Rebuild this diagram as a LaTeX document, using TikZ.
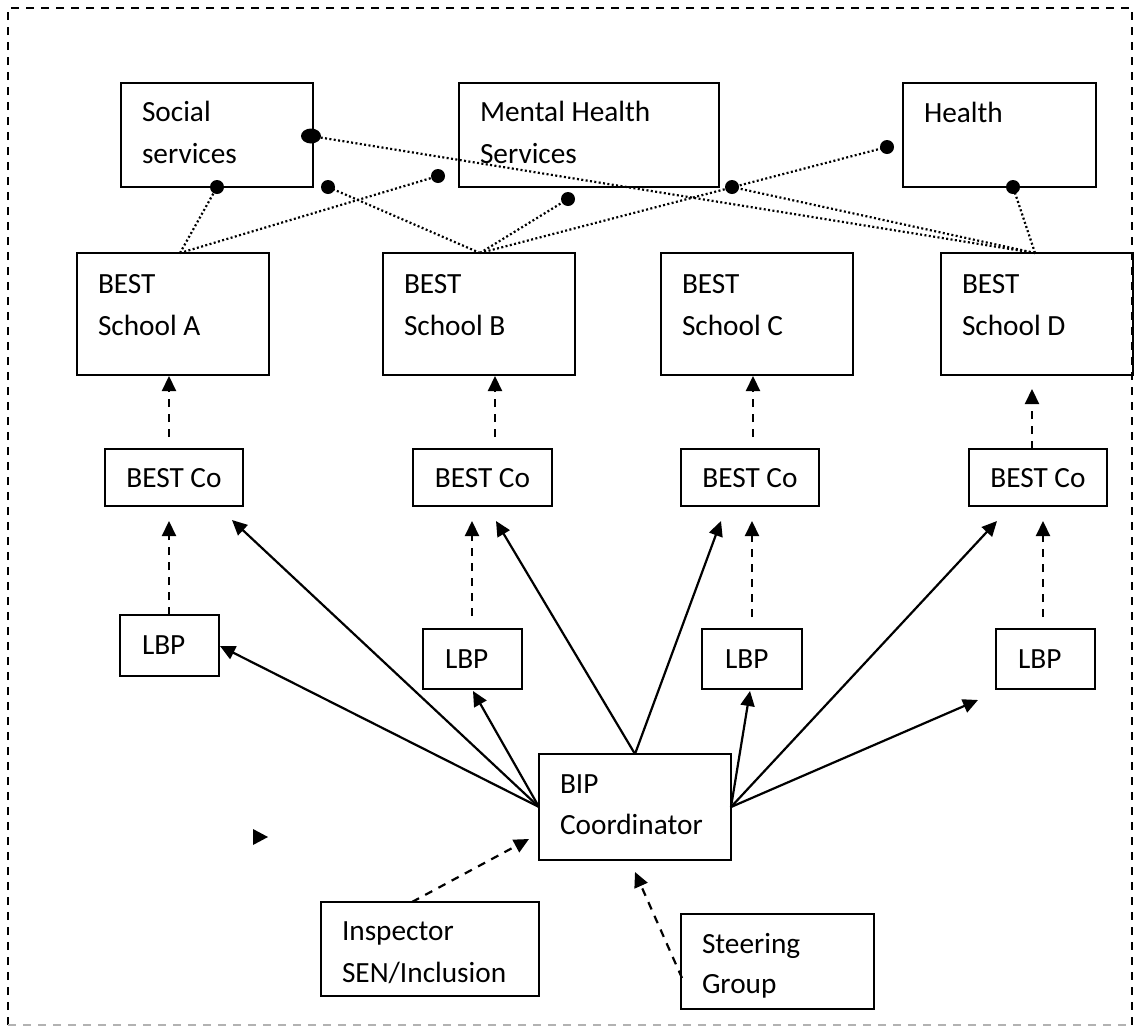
\documentclass[tikz,border=0pt]{standalone}
\usepackage{fontspec}
\setmainfont{Carlito}
\usetikzlibrary{arrows.meta,shapes.geometric}
\tikzset{
  box/.style={draw, line width=2pt, inner sep=0pt, outer sep=0pt, rectangle},
  lbl/.style={anchor=base west, inner sep=0pt, outer sep=0pt, font=\fontsize{29.3}{35}\selectfont},
  clbl/.style={anchor=base, inner sep=0pt, outer sep=0pt, font=\fontsize{29.3}{35}\selectfont},
  solidarrow/.style={line width=2.2pt, -{Triangle[length=15pt,width=14pt]}},
  dasharrow/.style={line width=2.2pt, dash pattern=on 8pt off 7pt, -{Triangle[length=15pt,width=14pt]}},
  dotline/.style={line width=2.2pt, dash pattern=on 2pt off 2.4pt},
  dotend/.style={circle, fill, draw=none, inner sep=0pt, minimum size=14pt},
  frameline/.style={line width=1.6pt, dash pattern=on 8pt off 7pt},
}
\begin{document}
\begin{tikzpicture}[x=1pt, y=-1pt]
\useasboundingbox (0,0) rectangle (1136,1026);

% frame
\draw[frameline] (8,1025) -- (8,8) -- (1132,8) -- (1132,1025);
\draw[frameline, gray!60, line width=1.4pt] (8,1025) -- (1132,1025);

% top row
\node[box, minimum width=192pt, minimum height=104pt] (soc) at (217,135) {};
\node[box, minimum width=260pt, minimum height=104pt] (mhs) at (589,135) {};
\node[box, minimum width=193pt, minimum height=104pt] (hea) at (999.5,135) {};
\node[lbl] (socT1) at (142,121) {Social};
\node[lbl] (socT2) at (142,163) {services};
\node[lbl] (mhsT1) at (480,121) {Mental Health};
\node[lbl] (mhsT2) at (480,163) {Services};
\node[lbl] (heaT1) at (924,122) {Health};

% schools
\node[box, minimum width=192pt, minimum height=122pt] (schA) at (173,314) {};
\node[box, minimum width=192pt, minimum height=122pt] (schB) at (479,314) {};
\node[box, minimum width=192pt, minimum height=122pt] (schC) at (757,314) {};
\node[box, minimum width=192pt, minimum height=122pt] (schD) at (1037,314) {};
\node[lbl] (schA1) at (98,293) {BEST};
\node[lbl] (schA2) at (98,335) {School A};
\node[lbl] (schB1) at (404,293) {BEST};
\node[lbl] (schB2) at (404,335) {School B};
\node[lbl] (schC1) at (682,293) {BEST};
\node[lbl] (schC2) at (682,335) {School C};
\node[lbl] (schD1) at (962,293) {BEST};
\node[lbl] (schD2) at (962,335) {School D};

% BEST Co
\node[box, minimum width=138pt, minimum height=57pt] (coA) at (174,477.5) {};
\node[box, minimum width=139pt, minimum height=57pt] (coB) at (482.5,477.5) {};
\node[box, minimum width=138pt, minimum height=57pt] (coC) at (750,477.5) {};
\node[box, minimum width=138pt, minimum height=57pt] (coD) at (1038,477.5) {};
\node[clbl] (coAT) at (174,487.5) {BEST Co};
\node[clbl] (coBT) at (482.5,487.5) {BEST Co};
\node[clbl] (coCT) at (750,487.5) {BEST Co};
\node[clbl] (coDT) at (1038,487.5) {BEST Co};

% LBP
\node[box, minimum width=99pt, minimum height=61pt] (lbpA) at (169.5,645.5) {};
\node[box, minimum width=99pt, minimum height=60pt] (lbpB) at (472.5,659) {};
\node[box, minimum width=100pt, minimum height=60pt] (lbpC) at (752,659) {};
\node[box, minimum width=99pt, minimum height=60pt] (lbpD) at (1045.5,659) {};
\node[lbl] (lbpAT) at (142,654) {LBP};
\node[lbl] (lbpBT) at (445,668) {LBP};
\node[lbl] (lbpCT) at (725,668) {LBP};
\node[lbl] (lbpDT) at (1018,668) {LBP};

% BIP, Inspector, Steering
\node[box, minimum width=192pt, minimum height=106pt] (bip) at (635,807) {};
\node[lbl] (bipT1) at (560,793) {BIP};
\node[lbl] (bipT2) at (560,834) {Coordinator};
\node[box, minimum width=218pt, minimum height=94pt] (insp) at (430,949) {};
\node[lbl] (inspT1) at (342,940) {Inspector};
\node[lbl] (inspT2) at (342,982) {SEN/Inclusion};
\node[box, minimum width=193pt, minimum height=95pt] (steer) at (777.5,961.5) {};
\node[lbl] (steerT1) at (702,953) {Steering};
\node[lbl] (steerT2) at (702,993) {Group};

% dotted connection points
\coordinate (aTop) at (180,253);
\coordinate (bTop) at (480,253);
\coordinate (dTop) at (1035,253);
\node[dotend] (dSocB) at (217,187) {};
\node[ellipse, fill, inner sep=0pt, minimum width=20pt, minimum height=15pt] (dSocR) at (311,136) {};
\node[dotend] (dA2) at (438,176) {};
\node[dotend] (dB1) at (328,187) {};
\node[dotend] (dB2) at (568,199) {};
\node[dotend] (dHea) at (887,147) {};
\node[dotend] (dMid) at (732,187) {};
\node[dotend] (dHeaB) at (1013,187) {};

\draw[dotline] (aTop) -- (dSocB.center);
\draw[dotline] (aTop) -- (dA2.center);
\draw[dotline] (bTop) -- (dB1.center);
\draw[dotline] (bTop) -- (dB2.center);
\draw[dotline] (bTop) -- (dHea.center);
\draw[dotline] (dTop) -- (dSocR.center);
\draw[dotline] (dTop) -- (dMid.center);
\draw[dotline] (dTop) -- (dHeaB.center);

% solid arrows from BIP
\coordinate (tCoA) at (232,520);
\coordinate (tCoB) at (496,521);
\coordinate (tCoC) at (721,521);
\coordinate (tCoD) at (997,521);
\coordinate (tLbpD) at (978,700);
\coordinate (tLbpA) at (220,646);
\coordinate (tLbpB) at (473,691);
\coordinate (tLbpC) at (750,691);
\draw[solidarrow] (bip.west) -- (tLbpA);
\draw[solidarrow] (bip.west) -- (tCoA);
\draw[solidarrow] (bip.west) -- (tLbpB);
\draw[solidarrow] (bip.north) -- (tCoB);
\draw[solidarrow] (bip.north) -- (tCoC);
\draw[solidarrow] (bip.east) -- (tLbpC);
\draw[solidarrow] (bip.east) -- (tCoD);
\draw[solidarrow] (bip.east) -- (tLbpD);

% dashed arrows upward
\coordinate (sA0) at (169,437);  \coordinate (sA1) at (169,376);
\coordinate (sB0) at (495,437);  \coordinate (sB1) at (495,376);
\coordinate (sC0) at (753,437);  \coordinate (sC1) at (753,376);
\coordinate (sD0) at (1032,449); \coordinate (sD1) at (1032,389);
\coordinate (lA0) at (169,615);  \coordinate (lA1) at (169,521);
\coordinate (lB0) at (472,616);  \coordinate (lB1) at (472,521);
\coordinate (lC0) at (752,617);  \coordinate (lC1) at (752,521);
\coordinate (lD0) at (1043,617); \coordinate (lD1) at (1043,521);
\foreach \p in {sA,sB,sC,sD,lA,lB,lC,lD}{
  \draw[dasharrow] (\p0) -- (\p1);
}
\coordinate (iS) at (412,902);  \coordinate (iT) at (529,839);
\coordinate (gS) at (682,978);  \coordinate (gT) at (635,872);
\draw[dasharrow] (iS) -- (iT);
\draw[dasharrow] (gS) -- (gT);

% stray arrowhead
\fill (253,829) -- (268,837) -- (253,845) -- cycle;
\end{tikzpicture}
\end{document}
